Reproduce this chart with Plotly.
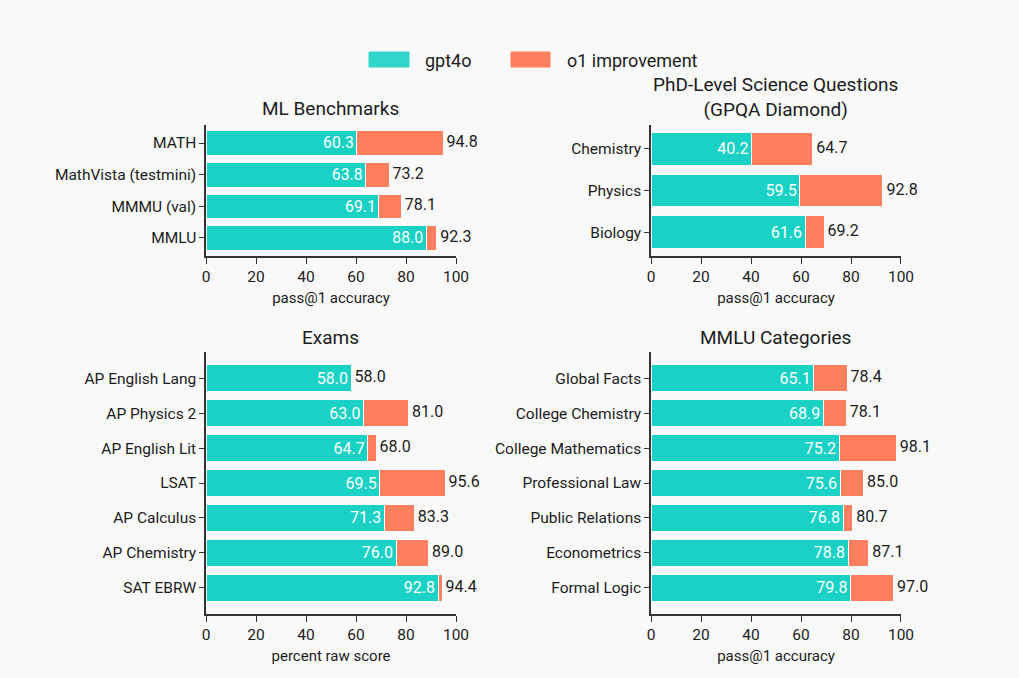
import plotly.graph_objects as go
from plotly.subplots import make_subplots

# data
ml_cats = ["MATH", "MathVista (testmini)", "MMMU (val)", "MMLU"]
ml_gpt4o = [60.3, 63.8, 69.1, 88.0]
ml_o1 = [94.8, 73.2, 78.1, 92.3]

gpqa_cats = ["Chemistry", "Physics", "Biology"]
gpqa_gpt4o = [40.2, 59.5, 61.6]
gpqa_o1 = [64.7, 92.8, 69.2]

exam_cats = ["AP English Lang", "AP Physics 2", "AP English Lit", "LSAT",
             "AP Calculus", "AP Chemistry", "SAT EBRW"]
exam_gpt4o = [58.0, 63.0, 64.7, 69.5, 71.3, 76.0, 92.8]
exam_o1 = [58.0, 81.0, 68.0, 95.6, 83.3, 89.0, 94.4]

mmlu_cats = ["Global Facts", "College Chemistry", "College Mathematics",
             "Professional Law", "Public Relations", "Econometrics", "Formal Logic"]
mmlu_gpt4o = [65.1, 68.9, 75.2, 75.6, 76.8, 78.8, 79.8]
mmlu_o1 = [78.4, 78.1, 98.1, 85.0, 80.7, 87.1, 97.0]

TEAL = "#19D1C4"
SALMON = "#FF7F5E"
BG = "#F9F9F9"
INK = "#1c1c1c"
FONT = "Roboto"

panels = [
    (1, 1, ml_cats, ml_gpt4o, ml_o1, "pass@1 accuracy"),
    (1, 2, gpqa_cats, gpqa_gpt4o, gpqa_o1, "pass@1 accuracy"),
    (2, 1, exam_cats, exam_gpt4o, exam_o1, "percent raw score"),
    (2, 2, mmlu_cats, mmlu_gpt4o, mmlu_o1, "pass@1 accuracy"),
]

fig = make_subplots(rows=2, cols=2)

for row, col, cats, base, total, xtitle in panels:
    imp = [round(t - b, 1) for t, b in zip(total, base)]
    fig.add_trace(go.Bar(
        y=cats, x=base, orientation="h", marker_color=TEAL,
        marker_line=dict(color="#FBFBFB", width=1),
        text=[f"{v:.1f}" for v in base], textposition="inside",
        insidetextanchor="end", textangle=0,
        textfont=dict(color="white", size=16, family=FONT),
        showlegend=False, hoverinfo="skip"), row=row, col=col)
    fig.add_trace(go.Bar(
        y=cats, x=imp, orientation="h", marker_color=SALMON,
        marker_line=dict(color="#FBFBFB", width=1),
        showlegend=False, hoverinfo="skip"), row=row, col=col)
    # totals written just past the end of each stack
    fig.add_trace(go.Scatter(
        y=cats, x=total, mode="markers+text", text=[f"{v:.1f}" for v in total],
        textposition="middle right", cliponaxis=False,
        marker=dict(size=4, opacity=0),
        textfont=dict(color=INK, size=16, family=FONT),
        showlegend=False, hoverinfo="skip"), row=row, col=col)
    n = len(cats)
    pad = 0.57 if row == 1 else 0.75
    fig.update_yaxes(range=[n - 1 + pad, -pad], row=row, col=col)
    fig.update_xaxes(title_text=xtitle, row=row, col=col)

fig.update_layout(
    width=1019, height=678, autosize=False,
    barmode="stack", bargap=0.22,
    paper_bgcolor=BG, plot_bgcolor=BG,
    margin=dict(l=0, r=0, t=0, b=0, pad=0),
    font=dict(family=FONT, color=INK, size=15),
    showlegend=False,
)

fig.update_xaxes(range=[0, 100], tickvals=[0, 20, 40, 60, 80, 100],
                 automargin=False,
                 showgrid=False, zeroline=False, showline=True,
                 linecolor="#333333", linewidth=1.5,
                 ticks="outside", ticklen=6, tickcolor="#333333",
                 tickfont=dict(size=15.5), title_font=dict(size=15),
                 title_standoff=7)
fig.update_yaxes(automargin=False,
                 showgrid=False, zeroline=False, showline=True,
                 linecolor="#333333", linewidth=1.5,
                 ticks="outside", ticklen=5, tickcolor="#333333",
                 tickfont=dict(size=15.5))

# subplot placement
fig.layout.xaxis.domain = [0.2022, 0.4475]
fig.layout.xaxis2.domain = [0.6389, 0.8842]
fig.layout.xaxis3.domain = [0.2022, 0.4475]
fig.layout.xaxis4.domain = [0.6389, 0.8842]
fig.layout.yaxis.domain = [0.6224, 0.8156]
fig.layout.yaxis2.domain = [0.6224, 0.8156]
fig.layout.yaxis3.domain = [0.0944, 0.4808]
fig.layout.yaxis4.domain = [0.0944, 0.4808]

# panel titles
titles = [
    ("ML Benchmarks", 0.3248, 0.8407),
    ("PhD-Level Science Questions<br>(GPQA Diamond)", 0.7615, 0.8562),
    ("Exams", 0.3248, 0.5029),
    ("MMLU Categories", 0.7615, 0.5029),
]
for txt, x, y in titles:
    fig.add_annotation(text=txt, x=x, y=y, xref="paper", yref="paper",
                       showarrow=False, xanchor="center", yanchor="middle",
                       font=dict(size=19, color=INK, family=FONT))

# legend drawn by hand (wide swatches)
legend_items = [("gpt4o", "#33D6CA", 369, 409, 423), ("o1 improvement", SALMON, 511, 550, 565)]
W, H = 1019, 678
for name, color, x0, x1, tx in legend_items:
    fig.add_shape(type="rect", xref="paper", yref="paper",
                  x0=x0 / W, x1=x1 / W, y0=1 - 67 / H, y1=1 - 52 / H,
                  fillcolor=color, line=dict(color=color, width=1))
    fig.add_annotation(text=name, x=tx / W, y=1 - 60 / H, xref="paper", yref="paper",
                       showarrow=False, xanchor="left", yanchor="middle",
                       font=dict(size=18, color=INK, family=FONT))

fig.write_html("out.html",
               config={"displayModeBar": False, "responsive": False},
               post_script="document.body.style.margin='0px';"
                           "document.body.style.overflow='hidden';"
                           "document.body.style.background='#F9F9F9';")
